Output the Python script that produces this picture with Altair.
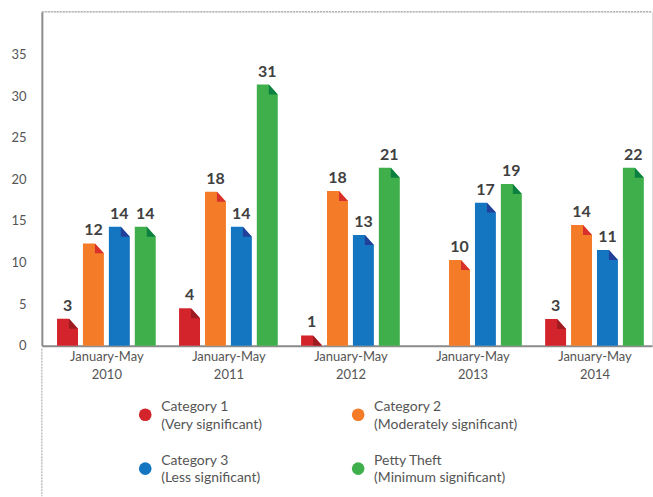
import altair as alt
import pandas as pd

# ---- data ----
periods = ["January-May 2010", "January-May 2011", "January-May 2012",
           "January-May 2013", "January-May 2014"]
series = ["Category 1", "Category 2", "Category 3", "Petty Theft"]
subtitles = ["(Very significant)", "(Moderately significant)",
             "(Less significant)", "(Minimum significant)"]

# bar heights as drawn
cat1_values = [3.24, 4.5, 1.23, None, 3.2]
cat2_values = [12.3, 18.5, 18.6, 10.3, 14.5]
cat3_values = [14.3, 14.3, 13.3, 17.2, 11.5]
petty_values = [14.3, 31.4, 21.4, 19.45, 21.4]

# numbers printed above the bars
cat1_labels = [3, 4, 1, None, 3]
cat2_labels = [12, 18, 18, 10, 14]
cat3_labels = [14, 14, 13, 17, 11]
petty_labels = [14, 31, 21, 19, 22]

y_ticks = [0, 5, 10, 15, 20, 25, 30, 35]

# ---- styles ----
colors = ["#D3232B", "#F47B27", "#1475C0", "#3EAF4A"]
fold_colors = ["#9C1C22", "#D8302A", "#22409A", "#0B8040"]
TEXT = "#555555"
AXIS = "#8C8C8C"
FONT = "Lato"

all_values = [cat1_values, cat2_values, cat3_values, petty_values]
all_labels = [cat1_labels, cat2_labels, cat3_labels, petty_labels]

rows = []
for s, vals, labs, fc in zip(series, all_values, all_labels, fold_colors):
    for p, v, l in zip(periods, vals, labs):
        rows.append({"period": p, "series": s, "value": v, "label": l, "fold": fc})
df = pd.DataFrame(rows)

W, H = 612, 335
YMAX = 40.15

CUT = "M0.143,-0.15 L1.15,-0.15 L1.15,0.952 L1.0,0.952 L0.143,0 Z"
FOLD = "M0.143,0 L1.0,0.952 L0.143,0.952 Z"

base = alt.Chart(df).transform_filter("isValid(datum.value)").encode(
    x=alt.X("period:N", sort=periods, title=None,
            scale=alt.Scale(paddingInner=0, paddingOuter=0),
            axis=alt.Axis(labelAngle=0, labelExpr="split(datum.label, ' ')",
                          labelFontSize=13, labelColor=TEXT, labelFont=FONT,
                          labelLineHeight=18, labelPadding=5, labelOffset=4,
                          ticks=False, domainColor=AXIS, domainWidth=2)),
    xOffset=alt.XOffset("series:N", sort=series,
                        scale=alt.Scale(paddingInner=0.192, paddingOuter=0.45, align=0.65)),
    y=alt.Y("value:Q", title=None,
            scale=alt.Scale(domain=[0, YMAX], nice=False),
            axis=alt.Axis(values=y_ticks, grid=False, ticks=False,
                          labelFontSize=13, labelColor=TEXT, labelFont=FONT,
                          labelPadding=16, domainColor=AXIS, domainWidth=2)),
)

bars = base.mark_bar().encode(
    color=alt.Color("series:N", scale=alt.Scale(domain=series, range=colors), legend=None)
)
cut = base.mark_point(shape=CUT, size=441, filled=True, fill="white",
                      opacity=1, strokeWidth=0)
fold = base.mark_point(shape=FOLD, size=441, filled=True, opacity=1,
                       strokeWidth=0).encode(fill=alt.Fill("fold:N", scale=None))
labels = base.mark_text(fontSize=16, fontWeight="bold", font=FONT, color="#404040",
                        baseline="alphabetic", dy=-8).encode(text="label:Q")

top_rule = alt.Chart(pd.DataFrame({"a": [0]})).mark_rule(
    color="#A0A0A0", strokeDash=[2, 1], strokeWidth=1
).encode(x=alt.value(0), x2=alt.value(W), y=alt.value(0))

main = alt.layer(bars, cut, fold, labels, top_rule)

# ---- custom legend (below the plot, own scales) ----
leg = pd.DataFrame({
    "name": series, "sub": subtitles, "color": colors,
    "col": [0, 1, 0, 1], "row": [0, 0, 1, 1],
})
leg["text"] = leg["name"] + "\n" + leg["sub"]

lx = alt.X("col:Q", axis=None, scale=alt.Scale(domain=[-0.4855, 2.380], nice=False, zero=False))
ly = alt.Y("row:Q", axis=None, scale=alt.Scale(domain=[-7.487, -1.283], reverse=True,
                                                nice=False, zero=False))
dots = alt.Chart(leg).mark_point(shape="circle", size=161, filled=True, opacity=1,
                                 strokeWidth=0).encode(
    x=lx, y=ly, fill=alt.Fill("color:N", scale=None))
leg_text = alt.Chart(leg).mark_text(align="left", baseline="middle", dx=16, dy=-7.5,
                                    lineBreak="\n", lineHeight=17.3, fontSize=14,
                                    font=FONT, color=TEXT).encode(
    x=lx, y=ly, text="text:N")
left_rule = alt.Chart(pd.DataFrame({"a": [0]})).mark_rule(
    color="#A0A0A0", strokeDash=[2, 1], strokeWidth=1
).encode(x=alt.value(0), y=alt.value(H + 3), y2=alt.value(H + 151))

legend = alt.layer(left_rule, dots, leg_text)

chart = alt.layer(main, legend).resolve_scale(
    x="independent", y="independent", fill="independent"
).properties(
    width=W, height=H,
    padding={"left": 10, "top": 10, "right": 0, "bottom": 0}
).configure_view(stroke=None).configure(font=FONT)

chart.save("out.html", embed_options={"renderer": "svg", "actions": False})
